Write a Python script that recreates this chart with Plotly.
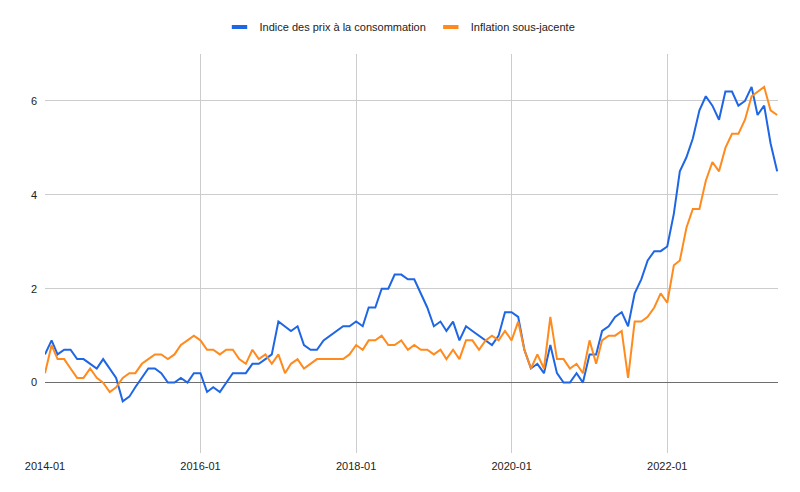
import pandas as pd
import plotly.graph_objects as go

months = pd.date_range("2014-01-01", "2023-06-01", freq="MS")

ipc = [
    0.6, 0.9, 0.6, 0.7, 0.7, 0.5, 0.5, 0.4, 0.3, 0.5, 0.3, 0.1,
    -0.4, -0.3, -0.1, 0.1, 0.3, 0.3, 0.2, 0.0, 0.0, 0.1, 0.0, 0.2,
    0.2, -0.2, -0.1, -0.2, 0.0, 0.2, 0.2, 0.2, 0.4, 0.4, 0.5, 0.6,
    1.3, 1.2, 1.1, 1.2, 0.8, 0.7, 0.7, 0.9, 1.0, 1.1, 1.2, 1.2,
    1.3, 1.2, 1.6, 1.6, 2.0, 2.0, 2.3, 2.3, 2.2, 2.2, 1.9, 1.6,
    1.2, 1.3, 1.1, 1.3, 0.9, 1.2, 1.1, 1.0, 0.9, 0.8, 1.0, 1.5,
    1.5, 1.4, 0.7, 0.3, 0.4, 0.2, 0.8, 0.2, 0.0, 0.0, 0.2, 0.0,
    0.6, 0.6, 1.1, 1.2, 1.4, 1.5, 1.2, 1.9, 2.2, 2.6, 2.8, 2.8,
    2.9, 3.6, 4.5, 4.8, 5.2, 5.8, 6.1, 5.9, 5.6, 6.2, 6.2, 5.9,
    6.0, 6.3, 5.7, 5.9, 5.1, 4.5,
]

sous_jacente = [
    0.2, 0.8, 0.5, 0.5, 0.3, 0.1, 0.1, 0.3, 0.1, 0.0, -0.2, -0.1,
    0.1, 0.2, 0.2, 0.4, 0.5, 0.6, 0.6, 0.5, 0.6, 0.8, 0.9, 1.0,
    0.9, 0.7, 0.7, 0.6, 0.7, 0.7, 0.5, 0.4, 0.7, 0.5, 0.6, 0.4,
    0.6, 0.2, 0.4, 0.5, 0.3, 0.4, 0.5, 0.5, 0.5, 0.5, 0.5, 0.6,
    0.8, 0.7, 0.9, 0.9, 1.0, 0.8, 0.8, 0.9, 0.7, 0.8, 0.7, 0.7,
    0.6, 0.7, 0.5, 0.7, 0.5, 0.9, 0.9, 0.7, 0.9, 1.0, 0.9, 1.1,
    0.9, 1.3, 0.7, 0.3, 0.6, 0.3, 1.4, 0.5, 0.5, 0.3, 0.4, 0.2,
    0.9, 0.4, 0.9, 1.0, 1.0, 1.1, 0.1, 1.3, 1.3, 1.4, 1.6, 1.9,
    1.7, 2.5, 2.6, 3.3, 3.7, 3.7, 4.3, 4.7, 4.5, 5.0, 5.3, 5.3,
    5.6, 6.1, 6.2, 6.3, 5.8, 5.7,
]

series_names = ["Indice des prix à la consommation", "Inflation sous-jacente"]
colors = ["#1f66e5", "#ff8b1f"]
x_ticks = ["2014-01-01", "2016-01-01", "2018-01-01", "2020-01-01", "2022-01-01"]
x_tick_labels = ["2014-01", "2016-01", "2018-01", "2020-01", "2022-01"]
y_ticks = [0, 2, 4, 6]

fig = go.Figure()
for name, vals, col in zip(series_names, [ipc, sous_jacente], colors):
    fig.add_trace(go.Scatter(
        x=months, y=vals, mode="lines", name=name,
        line=dict(color=col, width=2), showlegend=False,
    ))
    fig.add_trace(go.Scatter(
        x=[None], y=[None], mode="markers", name=name,
        marker=dict(symbol="line-ew", size=11, color=col,
                    line=dict(color=col, width=4)),
        showlegend=True,
    ))

fig.update_layout(
    width=800, height=492,
    margin=dict(l=45, r=22, t=54, b=39),
    paper_bgcolor="white", plot_bgcolor="white",
    font=dict(family="Liberation Sans, Arial, sans-serif", size=11, color="#222"),
    legend=dict(
        orientation="h", x=0.5, xanchor="center", xref="container",
        y=0.945, yanchor="middle", yref="container",
        itemwidth=30, font=dict(size=11, color="#222"),
    ),
    showlegend=True,
)

fig.update_xaxes(
    type="date",
    range=["2014-01-01", "2023-06-05"],
    tickvals=x_ticks, ticktext=x_tick_labels,
    showgrid=True, gridcolor="#cccccc", gridwidth=1,
    zeroline=False, showline=False, ticks="", ticklabelstandoff=5,
)
fig.update_yaxes(
    range=[-1.5, 7],
    tickvals=y_ticks,
    showgrid=True, gridcolor="#cccccc", gridwidth=1,
    zeroline=True, zerolinecolor="#6e6e6e", zerolinewidth=1,
    showline=False, ticks="", ticklabelstandoff=7,
)

fig.write_html("out.html")
